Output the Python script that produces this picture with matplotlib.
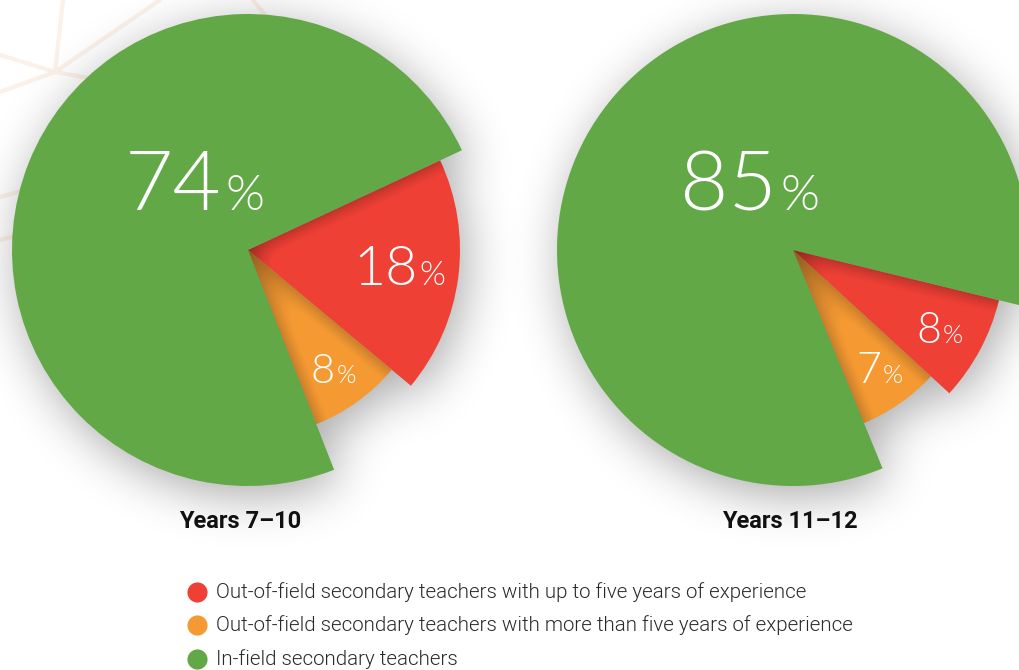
import numpy as np
import matplotlib
matplotlib.use('Agg')
import matplotlib.pyplot as plt

# data
groups = ['Years 7–10', 'Years 11–12']
categories = ['Out-of-field secondary teachers with up to five years of experience',
              'Out-of-field secondary teachers with more than five years of experience',
              'In-field secondary teachers']
years_7_10 = [18, 8, 74]
years_11_12 = [8, 7, 85]
colors = ['#ee4035', '#f59a33', '#63a846']

W, H = 1020, 670
fig = plt.figure(figsize=(W / 100, H / 100), dpi=100)
ax = fig.add_axes([0, 0, 1, 1])


def blur(a, s):
    x = np.arange(-3 * s, 3 * s + 1)
    k = np.exp(-x ** 2 / (2 * s * s))
    k = k / k.sum()
    a = np.apply_along_axis(lambda m: np.convolve(m, k, mode='same'), 0, a)
    a = np.apply_along_axis(lambda m: np.convolve(m, k, mode='same'), 1, a)
    return a


step = 2
gx = np.arange(0, W, step) + step / 2
gy = np.arange(0, H, step) + step / 2
XX, YY = np.meshgrid(gx, gy)
pts = np.column_stack([XX.ravel(), YY.ravel()])


def mask_of(wedges, dx=0, dy=0):
    m = np.zeros(len(pts), dtype=bool)
    for w in wedges:
        m |= w.get_path().contains_points(pts - [dx, dy])
    return m.reshape(XX.shape).astype(float)


def shade_img(a, alpha):
    img = np.zeros(a.shape + (4,))
    img[..., 3] = np.clip(a, 0, 1) * alpha
    return img


# faint decorative background lines
bg = '#fbf1e8'
for (x0, y0), (x1, y1) in [((55, 72), (63, 0)), ((55, 72), (0, 55)), ((55, 72), (0, 92)),
                           ((55, 72), (160, 0)), ((55, 72), (100, 80)), ((253, 0), (265, 15)),
                           ((0, 197), (25, 190)), ((0, 240), (15, 236))]:
    ax.plot([x0, x1], [H - y0, H - y1], color=bg, lw=3, solid_capstyle='round', zorder=0)

pies = [(years_7_10, (248, H - 250), 25.0), (years_11_12, (793, H - 250), -13.7)]
radii = [212, 187, 236]

for vals, c, start in pies:
    wedges, _ = ax.pie(vals, colors=colors, startangle=start, counterclock=False,
                       radius=236, center=c, wedgeprops=dict(linewidth=0))
    for w, r in zip(wedges, radii):
        w.set_radius(r)
        w.set_zorder(3)
    # drop shadow
    sh = blur(mask_of(wedges, 6, -10), 12)
    ax.imshow(shade_img(sh, 0.34), extent=(0, W, 0, H), origin='lower',
              interpolation='bilinear', zorder=2)
    # inner shading on the smaller wedges
    g = blur(mask_of([wedges[2]]), 7)
    im = ax.imshow(shade_img(g * 1.2 - 0.2, 0.5), extent=(0, W, 0, H), origin='lower',
                   interpolation='bilinear', zorder=4)
    im.set_clip_path(wedges[0])
    g2 = blur(mask_of([wedges[2], wedges[0]]), 7)
    im = ax.imshow(shade_img(g2 * 1.2 - 0.2, 0.45), extent=(0, W, 0, H), origin='lower',
                   interpolation='bilinear', zorder=4)
    im.set_clip_path(wedges[1])


def pct(x, y, v, size):
    t = ax.text(x, H - y, str(v), color='white', fontsize=size, fontweight=300,
                family='Lato', ha='left', va='baseline', zorder=6)
    fig.canvas.draw()
    bb = t.get_window_extent()
    ax.text(bb.x1 + size * 0.06, H - y, '%', color='white', fontsize=size * 0.6,
            fontweight=300, family='Lato', ha='left', va='baseline', zorder=6)


ax.set_xlim(0, W)
ax.set_ylim(0, H)
ax.axis('off')

pct(125, 210, years_7_10[2], 60)
pct(353, 285, years_7_10[0], 40)
pct(311, 383, years_7_10[1], 30)
pct(680, 210, years_11_12[2], 60)
pct(916, 343, years_11_12[0], 31)
pct(856, 383, years_11_12[1], 31)

for x, name in zip([240, 790], groups):
    ax.text(x, H - 522, name, fontsize=17, fontweight='bold',
            family=['Roboto', 'DejaVu Sans'], ha='center', va='center',
            color='#111111', zorder=6)

for i, (lab, col) in enumerate(zip(categories, colors)):
    y = H - (592 + i * 33.5)
    ax.scatter([197], [y], s=210, color=col, linewidths=0, zorder=6)
    ax.text(216, y, lab, fontsize=14.8, fontweight=300, family=['Roboto', 'DejaVu Sans'],
            ha='left', va='center', color='#2a2a2a', zorder=6)

ax.set_xlim(0, W)
ax.set_ylim(0, H)
fig.savefig('out.png', dpi=100)
